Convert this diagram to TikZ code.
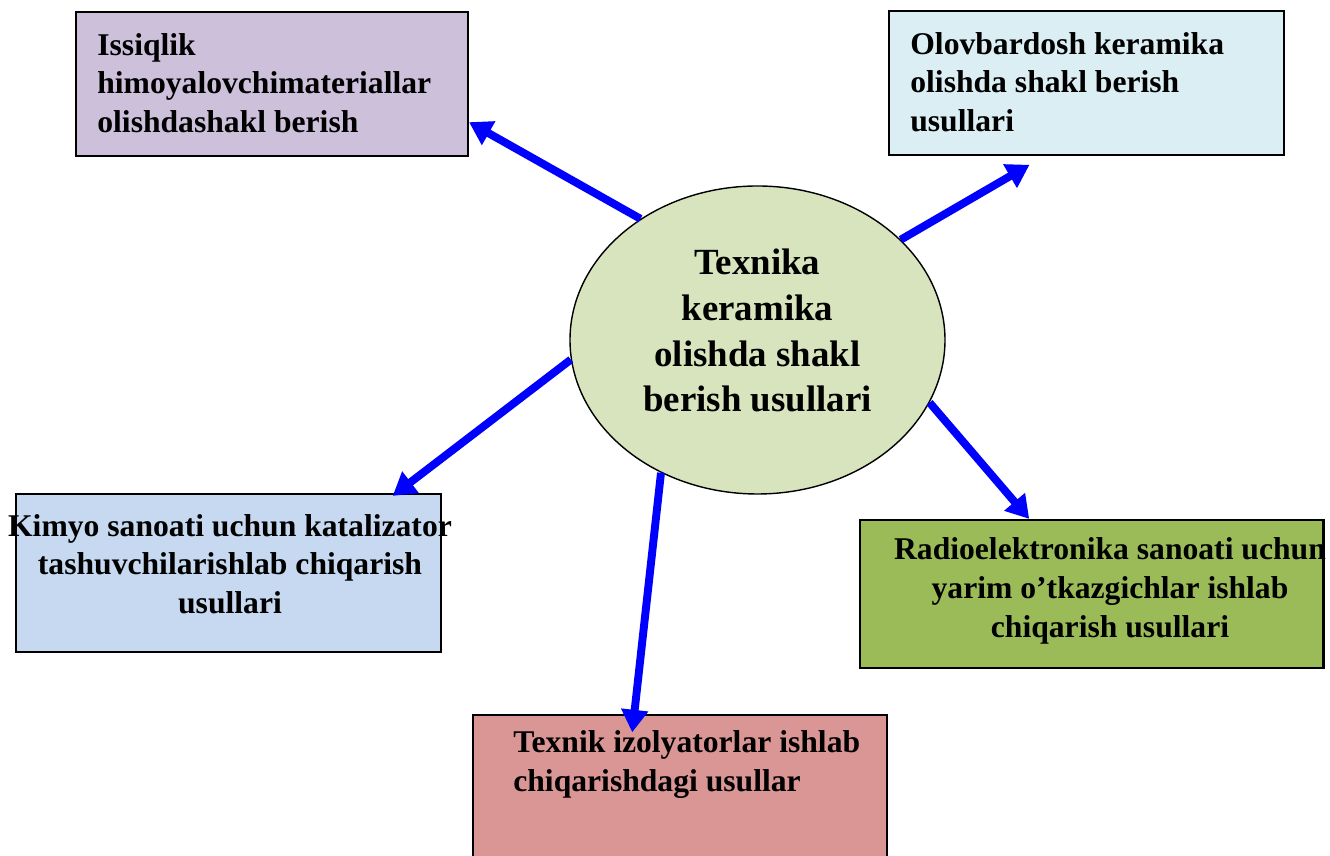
\documentclass[tikz,border=0pt]{standalone}
\usepackage{fontspec}
\setmainfont{Liberation Serif}
\usepackage{tikz}
\usetikzlibrary{arrows.meta,shapes.geometric}

\definecolor{lilac}{HTML}{CCC0DA}
\definecolor{ice}{HTML}{DBEEF3}
\definecolor{sky}{HTML}{C6D9F0}
\definecolor{olive}{HTML}{9BBB59}
\definecolor{rose}{HTML}{D99694}
\definecolor{sage}{HTML}{D7E4BD}
\definecolor{arrowblue}{HTML}{0000FF}

\begin{document}
\begin{tikzpicture}[
    box/.style={draw=black, line width=1.2pt, rectangle, inner sep=0pt},
    boxtext/.style={inner sep=0pt, font=\bfseries\fontsize{18}{22}\selectfont},
    flow/.style={draw=arrowblue, line width=4.5pt, -{Triangle[length=0.45cm,width=0.52cm]}}]

    \useasboundingbox (0,0) rectangle (26.6,17.12);
    \clip (0,0) rectangle (26.6,17.12);

    % centre
    \node[draw=black, line width=0.8pt, ellipse, fill=sage, inner sep=0pt,
          minimum width=7.5cm, minimum height=6.16cm, align=center, text depth=0.38cm,
          font=\bfseries\fontsize{21}{26}\selectfont] (tex) at (15.15,10.32)
          {Texnika\\keramika\\olishda shakl\\berish usullari};

    % boxes
    \node[box, fill=lilac, minimum width=7.84cm, minimum height=2.87cm] (issiqlik) at (5.44,15.436) {};
    \node[box, fill=ice, minimum width=7.9cm, minimum height=2.88cm] (olov) at (21.73,15.454) {};
    \node[box, fill=sky, minimum width=8.5cm, minimum height=3.17cm] (kimyo) at (4.564,5.656) {};
    \node[box, fill=olive, minimum width=9.27cm, minimum height=2.97cm] (radio) at (21.834,5.236) {};
    \node[box, fill=rose, minimum width=8.28cm, minimum height=3.8cm, anchor=north] (izol) at (13.594,2.834) {};

    \node[boxtext, anchor=west, align=left] (issiqlik-t) at (1.94,15.46)
        {Issiqlik\\himoyalovchimateriallar\\olishdashakl berish};
    \node[boxtext, anchor=west, align=left] (olov-t) at (18.2,15.48)
        {Olovbardosh keramika\\olishda shakl berish\\usullari};
    \node[boxtext, align=center] (kimyo-t) at (4.6,5.84)
        {Kimyo sanoati uchun katalizator\\tashuvchilarishlab chiqarish\\usullari};
    \node[boxtext, align=center] (radio-t) at (22.2,5.3)
        {Radioelektronika sanoati uchun\\yarim o’tkazgichlar ishlab\\chiqarish usullari};
    \node[boxtext, anchor=west, align=left] (izol-t) at (10.26,1.83)
        {Texnik izolyatorlar ishlab\\chiqarishdagi usullar};

    % arrows
    \draw[flow] (tex.134) -- ([yshift=-0.76cm]issiqlik.east);
    \draw[flow] (tex.35) -- ([xshift=-1.14cm,yshift=-0.17cm]olov.south);
    \draw[flow] (tex.186) -- ([xshift=3.29cm,yshift=-0.06cm]kimyo.north);
    \draw[flow] (tex.234) -- ([xshift=-0.95cm,yshift=-0.36cm]izol.north);
    \draw[flow] (tex.-20) -- ([xshift=-1.25cm]radio.north);

\end{tikzpicture}
\end{document}
